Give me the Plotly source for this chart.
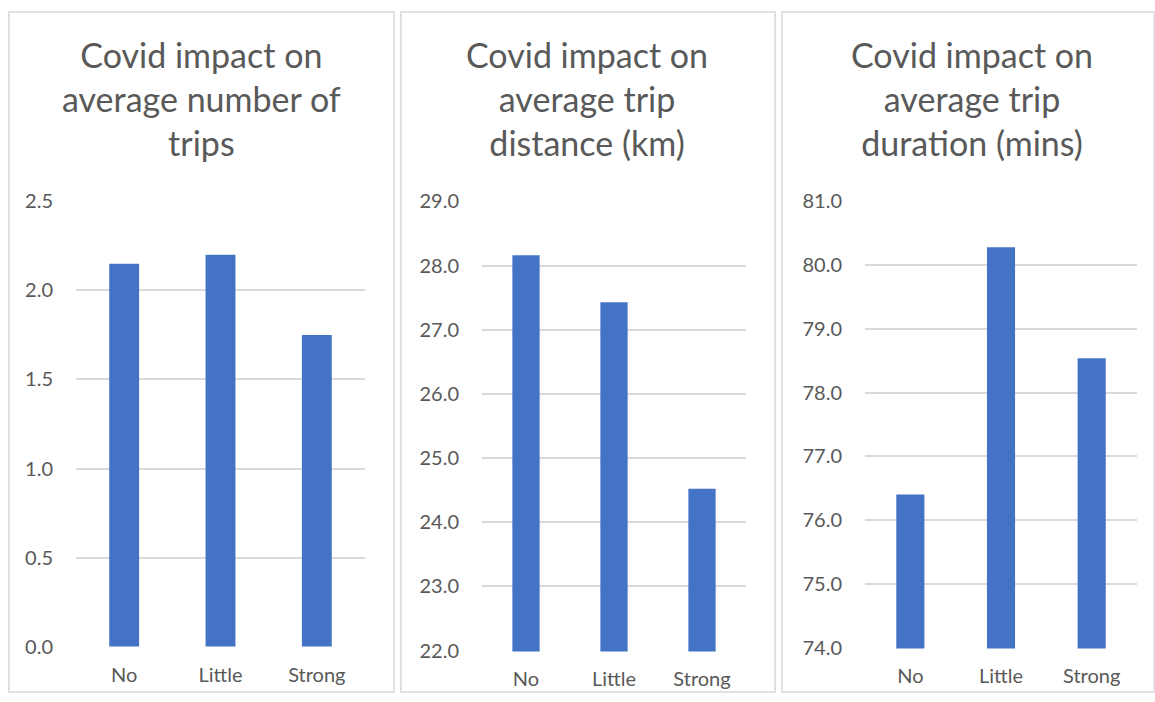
import plotly.graph_objects as go

categories = ["No", "Little", "Strong"]
trips = [2.15, 2.20, 1.75]
distance_km = [28.16, 27.43, 24.52]
duration_min = [76.40, 80.28, 78.54]

titles = [
    "Covid impact on<br>average number of<br>trips",
    "Covid impact on<br>average trip<br>distance (km)",
    "Covid impact on<br>average trip<br>duration (mins)",
]
y_ranges = [[0, 2.5], [22, 29], [74, 81]]
y_dticks = [0.5, 1, 1]

W, H = 1155, 702
BAR = "#4472C4"
GRID = "#D9D9D9"
TXT = "#595959"
FONT = "Lato"

# the captured picture maps page y -> 10 + 0.971*y; place things by target picture pixels
Y_OFF, Y_SCALE = 10.0, 0.971

def px(x):
    return x / W

def py(y):
    yy = (y - Y_OFF) / Y_SCALE
    return min(1.0, max(0.0, 1 - yy / H))

# plot areas in target picture pixels: x0, x1, y_top, y_bottom
areas = [(76, 365, 199, 647), (482, 746, 199, 651), (865, 1137, 199, 648)]
panels = [(9, 394), (401, 775), (782, 1154)]
title_cx = [201, 587, 972]

fig = go.Figure()
series = [trips, distance_km, duration_min]
for i, vals in enumerate(series):
    sfx = "" if i == 0 else str(i + 1)
    fig.add_trace(go.Bar(
        x=categories, y=vals, marker_color=BAR, marker_line_width=0,
        xaxis="x" + sfx, yaxis="y" + sfx, showlegend=False,
        hoverinfo="x+y",
    ))
    x0, x1, yt, yb = areas[i]
    lo, hi = y_ranges[i]
    pad = (hi - lo) * 0.002
    fig.layout["xaxis" + sfx] = dict(
        domain=[px(x0), px(x1)], anchor="y" + sfx,
        showgrid=False, zeroline=False, showline=False, ticks="",
        tickfont=dict(family=FONT, size=20, color=TXT),
        ticklabelstandoff=14, fixedrange=True,
    )
    fig.layout["yaxis" + sfx] = dict(
        domain=[py(yb), py(yt)], anchor="x" + sfx,
        range=[lo - pad, hi + pad], dtick=y_dticks[i], tick0=lo,
        tickformat=".1f", showgrid=True, gridcolor=GRID, gridwidth=1.5,
        zeroline=False, showline=False, ticks="",
        tickfont=dict(family=FONT, size=20, color=TXT),
        ticklabelstandoff=22, fixedrange=True,
    )
    fig.add_shape(type="rect", xref="paper", yref="paper",
                  x0=px(panels[i][0]), x1=px(panels[i][1]),
                  y0=0, y1=py(10),
                  line=dict(color=GRID, width=1.5), layer="below")
    fig.add_annotation(text=titles[i], xref="paper", yref="paper",
                       x=px(title_cx[i]), y=py(97), xanchor="center", yanchor="middle",
                       showarrow=False, align="center",
                       font=dict(family=FONT, size=34, color=TXT))

fig.update_layout(
    width=W, height=H, autosize=False,
    margin=dict(l=0, r=0, t=0, b=0),
    paper_bgcolor="white", plot_bgcolor="white",
    bargap=0.69,
)

fig.write_html(
    "out.html",
    config={"displayModeBar": False},
    post_script=(
        "document.body.style.margin='0';"
        "document.body.style.overflow='hidden';"
        "document.documentElement.style.overflow='hidden';"
    ),
)
